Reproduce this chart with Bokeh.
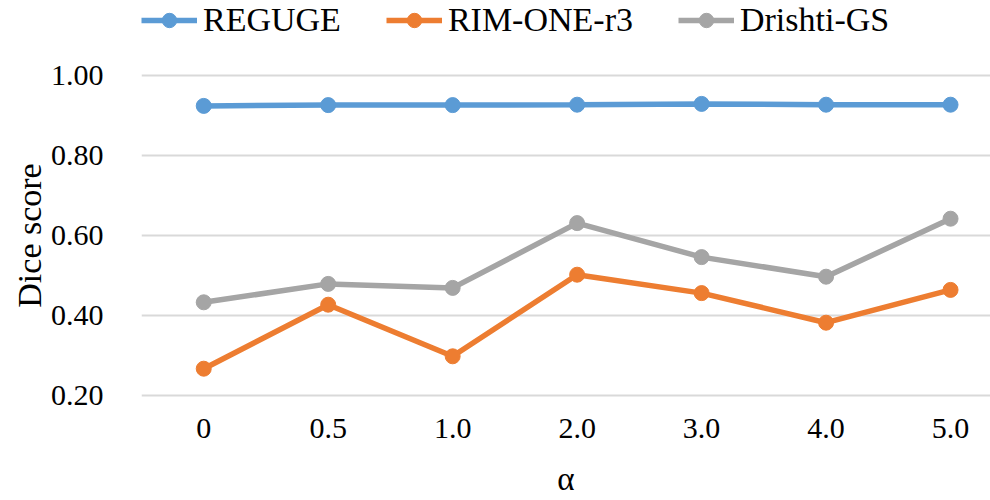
from bokeh.plotting import figure
from bokeh.layouts import column
from bokeh.models import Range1d, FixedTicker, Legend, LegendItem, NumeralTickFormatter
from bokeh.embed import file_html
from bokeh.resources import INLINE

categories = ["0", "0.5", "1.0", "2.0", "3.0", "4.0", "5.0"]
reguge = [0.924, 0.926, 0.926, 0.927, 0.929, 0.927, 0.927]
rim_one = [0.267, 0.427, 0.298, 0.502, 0.456, 0.382, 0.464]
drishti = [0.433, 0.479, 0.469, 0.631, 0.546, 0.497, 0.642]
y_ticks = [0.2, 0.4, 0.6, 0.8, 1.0]

series = [("REGUGE", reguge, "#5B9BD5"),
          ("RIM-ONE-r3", rim_one, "#ED7D31"),
          ("Drishti-GS", drishti, "#A5A5A5")]

FONT = "Liberation Serif"
LW = 5.5
MS = 15
xs = list(range(len(categories)))

# ---- main chart ----
p = figure(width=990, height=450, output_backend="svg", toolbar_location=None,
           x_range=Range1d(-0.5, 6.321), y_range=Range1d(0.19, 1.01),
           min_border_left=141, min_border_right=0, min_border_top=21, min_border_bottom=101)
p.outline_line_color = None
p.background_fill_color = "white"

for name, vals, col in series:
    p.line(xs, vals, line_color=col, line_width=LW)
    p.scatter(xs, vals, marker="circle", size=MS, fill_color=col, line_color=col)

p.xgrid.visible = False
p.ygrid.grid_line_color = "#D9D9D9"
p.ygrid.grid_line_width = 2
p.ygrid.ticker = FixedTicker(ticks=y_ticks)

p.yaxis.ticker = FixedTicker(ticks=y_ticks)
p.yaxis.formatter = NumeralTickFormatter(format="0.00")
p.xaxis.ticker = FixedTicker(ticks=xs)
p.xaxis.major_label_overrides = {i: c for i, c in enumerate(categories)}

for ax in (p.xaxis[0], p.yaxis[0]):
    ax.axis_line_color = None
    ax.major_tick_line_color = None
    ax.minor_tick_line_color = None
    ax.major_tick_out = 0
    ax.major_tick_in = 0
    ax.major_label_text_font = FONT
    ax.major_label_text_font_size = "30px"
    ax.major_label_text_color = "black"
    ax.axis_label_text_font = FONT
    ax.axis_label_text_font_style = "normal"
    ax.axis_label_text_color = "black"

p.xaxis.axis_label = "α"
p.yaxis.axis_label = "Dice score"
p.xaxis.axis_label_text_font_size = "33px"
p.yaxis.axis_label_text_font_size = "34px"
p.xaxis.major_label_standoff = 19
p.yaxis.major_label_standoff = 38
p.xaxis.axis_label_standoff = 20
p.yaxis.axis_label_standoff = 0

# ---- legend strip above the chart (same series, drawn outside its visible range) ----
lg = figure(width=990, height=50, output_backend="svg", toolbar_location=None,
            x_range=Range1d(0, 1), y_range=Range1d(10, 11),
            min_border_left=0, min_border_right=0, min_border_top=0, min_border_bottom=0)
lg.outline_line_color = None
lg.axis.visible = False
lg.grid.visible = False

items = []
for name, vals, col in series:
    r1 = lg.line(xs, vals, line_color=col, line_width=LW)
    r2 = lg.scatter(xs, vals, marker="circle", size=MS, fill_color=col, line_color=col)
    items.append(LegendItem(label=name, renderers=[r1, r2]))

legend = Legend(items=items, orientation="horizontal", location=(0, 11),
                padding=0, margin=0, spacing=45, label_standoff=6,
                glyph_width=56, glyph_height=36, label_height=36,
                label_text_font=FONT, label_text_font_size="34px",
                label_text_color="black",
                border_line_color=None, background_fill_alpha=0)
lg.add_layout(legend, "center")

layout = column(lg, p, spacing=0)
open("out.html", "w").write(file_html(layout, INLINE))
